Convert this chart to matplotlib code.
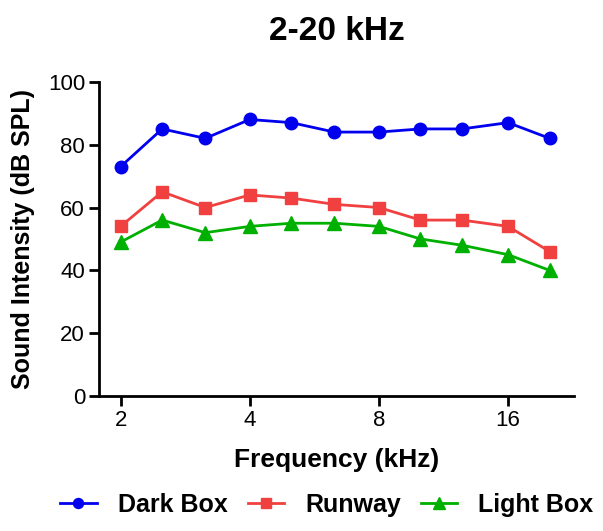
import matplotlib
matplotlib.use("Agg")
from matplotlib import pyplot as plt
from matplotlib.ticker import FixedLocator, NullLocator

plt.rcParams['font.family'] = ['Liberation Sans', 'DejaVu Sans']

# 1/3-octave band centres (kHz)
freq = [2, 2.5, 3.15, 4, 5, 6.3, 8, 10, 12.5, 16, 20]
dark_box = [73, 85, 82, 88, 87, 84, 84, 85, 85, 87, 82]
runway = [54, 65, 60, 64, 63, 61, 60, 56, 56, 54, 46]
light_box = [49, 56, 52, 54, 55, 55, 54, 50, 48, 45, 40]

x_ticks = [2, 4, 8, 16]
y_ticks = [0, 20, 40, 60, 80, 100]

fig = plt.figure(figsize=(6.03, 5.31), dpi=100)
ax = fig.add_axes([0.164, 0.254, 0.788, 0.592])

ax.plot(freq, dark_box, color="#0000ee", marker="o", markersize=9, lw=2, label="Dark Box", clip_on=False)
ax.plot(freq, runway, color="#f04040", marker="s", markersize=9, lw=2, label="Runway", clip_on=False)
ax.plot(freq, light_box, color="#00b000", marker="^", markersize=10, lw=2, label="Light Box", clip_on=False)

ax.set_xscale("log", base=2)
ax.set_xlim(1.78, 22.8)
ax.set_ylim(0, 100)
ax.xaxis.set_major_locator(FixedLocator(x_ticks))
ax.xaxis.set_minor_locator(NullLocator())
ax.set_xticklabels([str(t) for t in x_ticks])
ax.set_yticks(y_ticks)

for s in ["top", "right"]:
    ax.spines[s].set_visible(False)
for s in ["left", "bottom"]:
    ax.spines[s].set_linewidth(2)
ax.tick_params(axis="both", which="major", direction="out", length=7, width=2, labelsize=16, pad=3)

ax.set_xlabel("Frequency (kHz)", fontsize=19, fontweight="bold", labelpad=12)
ax.set_ylabel("Sound Intensity (dB SPL)", fontsize=18, fontweight="bold", labelpad=9)
ax.set_title("2-20 kHz", fontsize=24, fontweight="bold", pad=30)

fig.legend(loc="center", bbox_to_anchor=(0.542, 0.049), ncol=3, frameon=False,
           handlelength=1.45, columnspacing=0.8, handletextpad=0.85, markerscale=0.8,
           prop={"weight": "bold", "size": 18})

fig.savefig("out.png", dpi=100)
